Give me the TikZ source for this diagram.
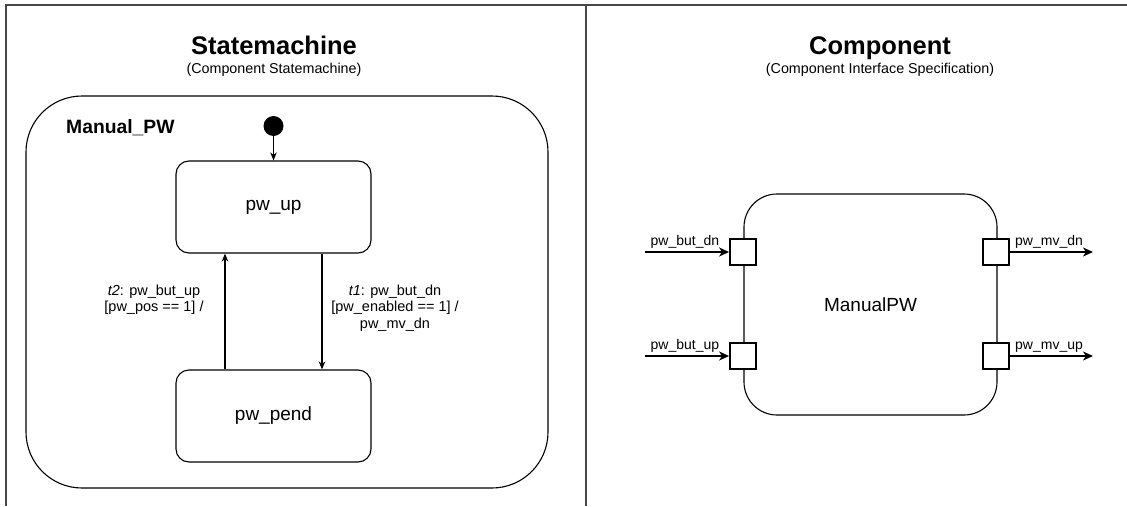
\documentclass[tikz,border=0pt]{standalone}
\usepackage{fontspec}
\setmainfont{Liberation Sans}
\usetikzlibrary{arrows.meta}
\begin{document}
\begin{tikzpicture}[x=1pt,y=-1pt,
  frame/.style={draw=black!72, line width=1.4pt},
  title/.style={anchor=base, font=\bfseries\fontsize{25.5}{30}\selectfont},
  subtitle/.style={anchor=base, font=\fontsize{14.3}{17}\selectfont},
  superstate/.style={draw, line width=1.1pt, rounded corners=56pt, minimum width=522pt, minimum height=392pt, inner sep=0pt},
  statebox/.style={draw, line width=1.1pt, rounded corners=13pt, minimum width=195pt, minimum height=92pt, inner sep=0pt, font=\fontsize{19}{22}\selectfont},
  initial/.style={circle, fill, minimum size=20pt, inner sep=0pt},
  trans/.style={draw, line width=1.1pt, -{Stealth[length=8pt,width=6.5pt,inset=2.5pt]}},
  tlabel/.style={anchor=base, align=center, font=\fontsize{14.5}{16.7}\selectfont, inner sep=0pt},
  compbox/.style={draw, line width=1.1pt, rounded corners=33pt, minimum width=253pt, minimum height=221pt, inner sep=0pt, font=\fontsize{19}{22}\selectfont},
  port/.style={draw, line width=1.8pt, fill=white, minimum size=26pt, inner sep=0pt},
  sig/.style={line width=1.8pt, -{Stealth[length=10pt,width=9pt,inset=3pt]}},
  plabel/.style={anchor=base west, font=\fontsize{14}{16}\selectfont, inner sep=0pt},
]
\useasboundingbox (0,0) rectangle (1127,506);

% outer frame with the panel divider
\draw[frame] (6,506) -- (6,5) -- (1127,5);
\draw[frame] (586,5) -- (586,506);

% ---- left panel: state machine ----
\node[title] (smtitle) at (274,54) {Statemachine};
\node[subtitle] (smsub) at (274,73.5) {(Component Statemachine)};

\node[superstate] (manual) at (287,292) {};
\node[anchor=base west, font=\bfseries\fontsize{19.3}{22}\selectfont, inner sep=0pt] (manuallbl) at (66,133.5) {Manual\_PW};

\node[initial] (init) at (273.5,126) {};
\node[statebox] (pwup) at (273.5,207) {pw\_up};
\node[statebox] (pwpend) at (273.5,416) {pw\_pend};

\draw[trans] (init) -- (pwup);
\draw[trans] ([xshift=-48.5pt]pwpend.north) -- ([xshift=-48.5pt]pwup.south);
\draw[trans] ([xshift=48.5pt]pwup.south) -- ([xshift=48.5pt]pwpend.north);

% multi-line labels: the base anchor sits on the last line
\node[tlabel] (t2lbl) at (154,311.7) {\textit{t2}: pw\_but\_up\\{}[pw\_pos == 1] /};
\node[tlabel] (t1lbl) at (395,328.4) {\textit{t1}: pw\_but\_dn\\{}[pw\_enabled == 1] /\\pw\_mv\_dn};

% ---- right panel: component interface ----
\node[title] (cotitle) at (880,54) {Component};
\node[subtitle] (cosub) at (880,73.5) {(Component Interface Specification)};

\node[compbox] (comp) at (870.5,304.5) {ManualPW};

\node[port] (pin1) at (743,252) {};
\node[port] (pin2) at (743,356) {};
\node[port] (pout1) at (996,252) {};
\node[port] (pout2) at (996,356) {};

\coordinate (src1) at (645,252);
\coordinate (src2) at (645,356);
\coordinate (dst1) at (1093,252);
\coordinate (dst2) at (1093,356);

\draw[sig] (src1) -- (pin1);
\draw[sig] (src2) -- (pin2);
\draw[sig] (pout1) -- (dst1);
\draw[sig] (pout2) -- (dst2);

\node[plabel] (l1) at (650.5,245.7) {pw\_but\_dn};
\node[plabel] (l2) at (650.5,349.7) {pw\_but\_up};
\node[plabel] (l3) at (1015,245.7) {pw\_mv\_dn};
\node[plabel] (l4) at (1015,349.7) {pw\_mv\_up};
\end{tikzpicture}
\end{document}
